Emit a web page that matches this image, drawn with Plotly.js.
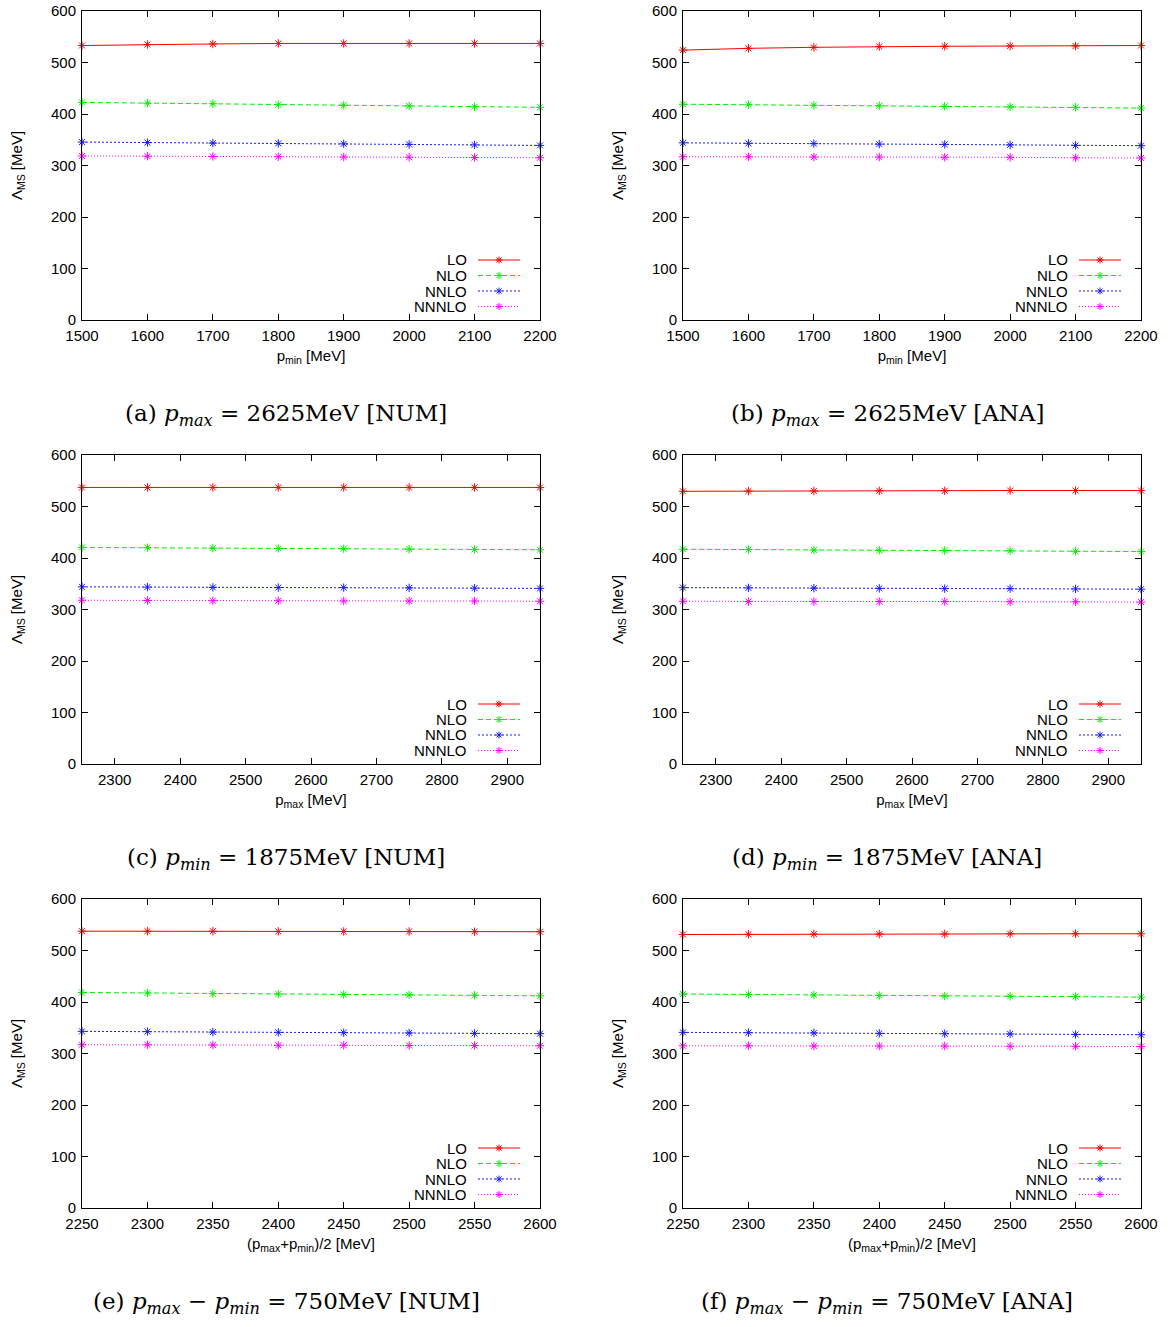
<!DOCTYPE html>
<html>
<head>
<meta charset="utf-8">
<script src="https://cdn.plot.ly/plotly-3.0.1.min.js"></script>
<style>html,body{margin:0;padding:0;background:#fff;}#chart{width:1170px;height:1327px;}</style>
</head>
<body>
<div id="chart"></div>
<script>
// ---- data ----
const seriesNames = ["LO", "NLO", "NNLO", "NNNLO"];

const xPmin = [1500, 1600, 1700, 1800, 1900, 2000, 2100, 2200];
const xPmax = [2250, 2350, 2450, 2550, 2650, 2750, 2850, 2950];
const xMid  = [2250, 2300, 2350, 2400, 2450, 2500, 2550, 2600];

const a_LO    = [533, 535, 536, 537, 537, 537, 537, 537];
const a_NLO   = [422.5, 421, 420, 418, 417, 415.5, 414, 413];
const a_NNLO  = [345.5, 344.5, 343.5, 343, 342, 341, 340, 339];
const a_NNNLO = [318.5, 318, 317.5, 317, 316.5, 316, 315.5, 315];

const b_LO    = [524, 527.5, 529.5, 531, 531.5, 532, 532, 533];
const b_NLO   = [419, 418, 417, 416, 415, 414, 413, 411.5];
const b_NNLO  = [344, 343, 342.5, 341.5, 341, 340, 339, 338.5];
const b_NNNLO = [317, 317, 316.5, 316.5, 316, 316, 315, 314.5];

const c_LO    = [537, 537, 537, 537, 537, 537, 537, 537];
const c_NLO   = [420.5, 420, 419, 418.5, 418, 417, 416.5, 416];
const c_NNLO  = [344, 343.5, 343, 342.5, 342.5, 342, 341.5, 341];
const c_NNNLO = [318, 317.5, 317, 317, 316.5, 316.5, 316.5, 316];

const d_LO    = [529.5, 530, 530, 530.5, 530.5, 531, 531, 531];
const d_NLO   = [417, 416.5, 415.5, 415, 414.5, 414, 413, 412.5];
const d_NNLO  = [342.5, 342, 341.5, 341, 340.5, 340.5, 340, 339.5];
const d_NNNLO = [316, 315.5, 315.5, 315.5, 315.5, 315, 315, 314.5];

const e_LO    = [537.5, 537.5, 537.5, 537, 537, 537, 536.5, 536.5];
const e_NLO   = [418.5, 417.5, 416, 415.5, 414.5, 413.5, 413, 412];
const e_NNLO  = [343, 342.5, 341.5, 341, 340.5, 340, 339, 338.5];
const e_NNNLO = [317, 317, 316.5, 316, 316, 315.5, 315.5, 315];

const f_LO    = [531, 531.5, 532, 532, 532, 532.5, 532.5, 532.5];
const f_NLO   = [415.5, 414.5, 413.5, 412.5, 411.5, 411, 410.5, 409.5];
const f_NNLO  = [341, 340.5, 340, 339, 338.5, 338, 337, 336.5];
const f_NNNLO = [315, 315, 314.5, 314.5, 314.5, 314, 314, 313.5];

const xTitles = ["p<sub>min</sub> [MeV]", "p<sub>min</sub> [MeV]",
                 "p<sub>max</sub> [MeV]", "p<sub>max</sub> [MeV]",
                 "(p<sub>max</sub>+p<sub>min</sub>)/2 [MeV]", "(p<sub>max</sub>+p<sub>min</sub>)/2 [MeV]"];
const yTitle = "Λ<sub>MS</sub> [MeV]";
const captions = [
  "(a) <i>p<sub>max</sub></i> = 2625MeV [NUM]",
  "(b) <i>p<sub>max</sub></i> = 2625MeV [ANA]",
  "(c) <i>p<sub>min</sub></i> = 1875MeV [NUM]",
  "(d) <i>p<sub>min</sub></i> = 1875MeV [ANA]",
  "(e) <i>p<sub>max</sub></i> − <i>p<sub>min</sub></i> = 750MeV [NUM]",
  "(f) <i>p<sub>max</sub></i> − <i>p<sub>min</sub></i> = 750MeV [ANA]"
];

const panels = [
  {x: xPmin, ys: [a_LO, a_NLO, a_NNLO, a_NNNLO], range: [1500, 2200], dtick: 100, tick0: 1500},
  {x: xPmin, ys: [b_LO, b_NLO, b_NNLO, b_NNNLO], range: [1500, 2200], dtick: 100, tick0: 1500},
  {x: xPmax, ys: [c_LO, c_NLO, c_NNLO, c_NNNLO], range: [2250, 2950], dtick: 100, tick0: 2300},
  {x: xPmax, ys: [d_LO, d_NLO, d_NNLO, d_NNNLO], range: [2250, 2950], dtick: 100, tick0: 2300},
  {x: xMid,  ys: [e_LO, e_NLO, e_NNLO, e_NNNLO], range: [2250, 2600], dtick: 50, tick0: 2250},
  {x: xMid,  ys: [f_LO, f_NLO, f_NNLO, f_NNNLO], range: [2250, 2600], dtick: 50, tick0: 2250}
];

// ---- styles ----
const colors = ["#ff0000", "#00ee00", "#1a1aff", "#ff00ff"];
const dashes = ["solid", "5px,3px", "2px,2px", "1px,2px"];

const W = 1170, H = 1327;
const colLR = [[82, 540], [683, 1141]];
const rowTB = [[11, 320], [455, 764], [899, 1208]];
const px = v => v / W;
const py = v => 1 - v / H;

const font = {family: "Liberation Sans, Arial, sans-serif", size: 15, color: "#000"};
const traces = [];
const layout = {
  width: W, height: H,
  margin: {l: 0, r: 0, t: 0, b: 0},
  paper_bgcolor: "#fff", plot_bgcolor: "#fff",
  showlegend: false,
  font: font,
  annotations: [], shapes: []
};

panels.forEach((p, i) => {
  const r = Math.floor(i / 2), c = i % 2;
  const n = i + 1;
  const xa = "xaxis" + (n === 1 ? "" : n), ya = "yaxis" + (n === 1 ? "" : n);
  const xr = "x" + (n === 1 ? "" : n), yr = "y" + (n === 1 ? "" : n);
  const [L, R] = colLR[c], [T, B] = rowTB[r];
  layout[xa] = {
    domain: [px(L), px(R)], anchor: yr, range: p.range,
    tickmode: "linear", tick0: p.tick0, dtick: p.dtick,
    ticks: "inside", ticklen: 6, tickwidth: 1, tickcolor: "#000",
    mirror: "allticks", showline: true, linecolor: "#000", linewidth: 1,
    showgrid: false, zeroline: false, tickfont: font, ticklabelstandoff: 2,
    title: {text: xTitles[i], font: font, standoff: 7}
  };
  layout[ya] = {
    domain: [py(B), py(T)], anchor: xr, range: [0, 600],
    tickmode: "linear", tick0: 0, dtick: 100,
    ticks: "inside", ticklen: 6, tickwidth: 1, tickcolor: "#000",
    mirror: "allticks", showline: true, linecolor: "#000", linewidth: 1,
    showgrid: false, zeroline: false, tickfont: font, ticklabelstandoff: 2,
    title: {text: yTitle, font: font, standoff: 24}
  };
  p.ys.forEach((ys, k) => {
    traces.push({
      type: "scatter", mode: "lines+markers", x: p.x, y: ys,
      xaxis: xr, yaxis: yr, name: seriesNames[k], cliponaxis: false,
      line: {color: colors[k], width: 1, dash: dashes[k]},
      marker: {symbol: "asterisk-open", size: 7, color: colors[k], line: {color: colors[k], width: 1}}
    });
  });
  // legend (gnuplot style: text left, sample right)
  const legY = [B - 60, B - 44.5, B - 29, B - 13.5];
  seriesNames.forEach((nm, k) => {
    layout.annotations.push({
      xref: "paper", yref: "paper", x: px(R - 71), y: py(legY[k]),
      xanchor: "right", yanchor: "middle", showarrow: false, text: nm, font: font
    });
    layout.shapes.push({
      type: "line", xref: "paper", yref: "paper",
      x0: px(R - 62), x1: px(R - 20), y0: py(legY[k]), y1: py(legY[k]),
      line: {color: colors[k], width: 1, dash: dashes[k]}
    });
    layout.shapes.push({
      type: "path", xref: "paper", yref: "paper",
      xsizemode: "pixel", ysizemode: "pixel", xanchor: px(R - 41), yanchor: py(legY[k]),
      path: "M-3.5,0H3.5M0,-3.5V3.5M-2.5,-2.5L2.5,2.5M-2.5,2.5L2.5,-2.5",
      line: {color: colors[k], width: 1}
    });
  });
  // caption
  layout.annotations.push({
    xref: "paper", yref: "paper", x: px((L + R) / 2 - 25), y: py(B + 95),
    xanchor: "center", yanchor: "middle", showarrow: false, text: captions[i],
    font: {family: "DejaVu Serif, Liberation Serif, serif", size: 23, color: "#000"}
  });
});

Plotly.newPlot("chart", traces, layout, {staticPlot: true});
</script>
</body>
</html>
